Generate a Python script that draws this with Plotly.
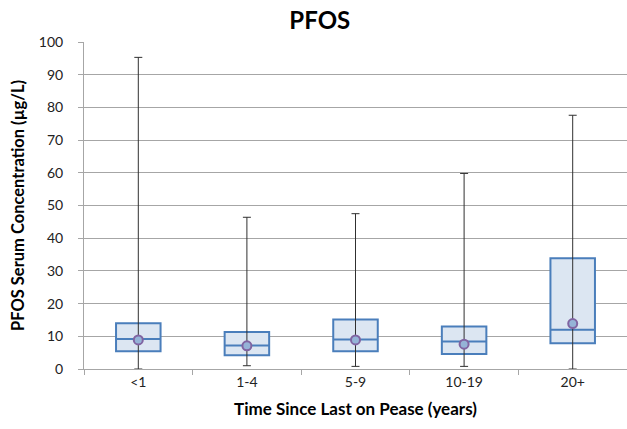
import plotly.graph_objects as go

# Serum PFOS (µg/L) summary by time since last on Pease
groups = ["<1", "1-4", "5-9", "10-19", "20+"]
minimum = [0.0, 1.0, 0.8, 0.8, 0.0]
q1 = [5.4, 4.2, 5.4, 4.6, 7.9]
median = [9.2, 7.2, 9.0, 8.4, 12.0]
q3 = [14.0, 11.3, 15.1, 13.0, 33.9]
maximum = [95.3, 46.4, 47.5, 59.8, 77.6]
mean = [8.9, 7.1, 8.9, 7.6, 13.9]

FONT = "Lato, 'Open Sans', sans-serif"
GRID = "#a6a6a6"
BOX_LINE = "#4a7ebb"
BOX_FILL = "#dce6f2"

upper = [mx - a for mx, a in zip(maximum, q1)]
lower = [a - mn for a, mn in zip(q1, minimum)]

fig = go.Figure()

# Whiskers: min to max, the box covers the middle part
fig.add_trace(go.Scatter(
    x=groups, y=q1, mode="markers",
    marker=dict(size=0.1, color="rgba(0,0,0,0)"),
    error_y=dict(type="data", symmetric=False, array=upper, arrayminus=lower,
                 color="#303030", thickness=1, width=4),
    hoverinfo="skip", showlegend=False,
))

# Interquartile boxes with median line
fig.add_trace(go.Box(
    x=groups, q1=q1, median=median, q3=q3,
    lowerfence=q1, upperfence=q3,
    width=0.41,
    fillcolor=BOX_FILL, line=dict(color=BOX_LINE, width=2),
    whiskerwidth=0, boxpoints=False, showlegend=False,
))

# Mean markers
fig.add_trace(go.Scatter(
    x=groups, y=mean, mode="markers",
    marker=dict(symbol="circle", size=9, color="#95b3d7",
                line=dict(color="#8064a2", width=2)),
    showlegend=False,
))

fig.update_layout(
    width=627, height=429,
    margin=dict(l=84, r=0, t=42, b=60, autoexpand=False),
    paper_bgcolor="white", plot_bgcolor="white",
    boxgap=0, boxgroupgap=0,
    font=dict(family=FONT, color="#000000"),
    title=dict(text="<b>PFOS</b>", x=0.51, xanchor="center",
               y=0.953, yanchor="middle",
               font=dict(family=FONT, size=24, color="#000000")),
)

fig.update_xaxes(
    type="category", range=[-0.5, 4.5], automargin=False,
    tickson="boundaries", ticks="outside", ticklen=5, tickcolor=GRID,
    showline=True, linecolor=GRID, linewidth=1,
    showgrid=False, zeroline=False,
    tickfont=dict(family=FONT, size=14, color="#222222"),
    title=dict(text="<b>Time Since Last on Pease (years)</b>",
               font=dict(family=FONT, size=17, color="#000000"), standoff=14),
)

fig.update_yaxes(
    range=[0, 100], dtick=10, automargin=False,
    ticks="outside", ticklen=5, tickcolor=GRID,
    showline=True, linecolor=GRID, linewidth=1,
    showgrid=True, gridcolor=GRID, gridwidth=1, zeroline=False,
    tickfont=dict(family=FONT, size=14, color="#222222"),
    ticklabelstandoff=12,
    title=dict(text="<b>PFOS Serum Concentration (µg/L)</b>",
               font=dict(family=FONT, size=16.5, color="#000000"), standoff=10),
)

fig.write_html("out.html")
